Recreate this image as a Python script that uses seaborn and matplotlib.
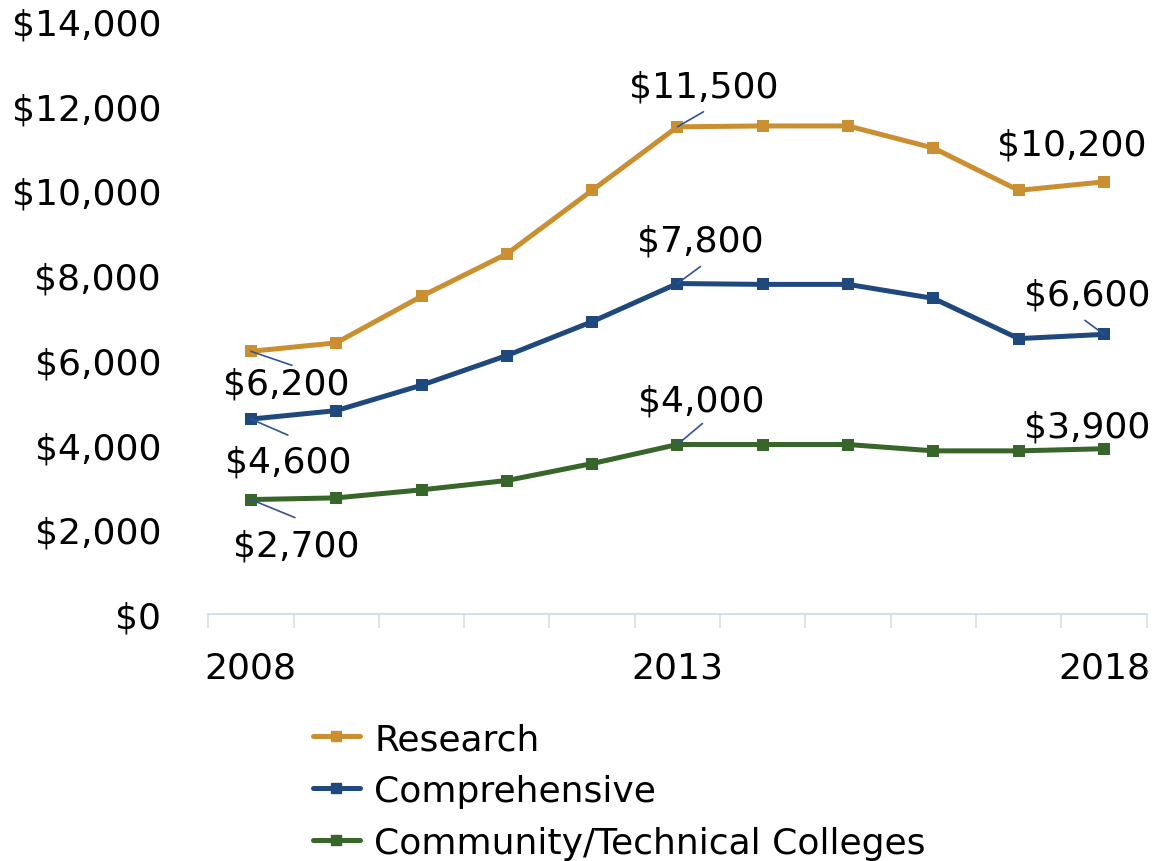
import numpy as np
import pandas as pd
import matplotlib
matplotlib.use("Agg")
import matplotlib.pyplot as plt
import seaborn as sns

years = list(range(2008, 2019))
research = [6200, 6400, 7500, 8500, 10000, 11500, 11520, 11520, 11000, 10000, 10200]
comprehensive = [4600, 4800, 5400, 6100, 6900, 7800, 7780, 7780, 7450, 6500, 6600]
community = [2700, 2740, 2930, 3150, 3550, 4000, 4000, 4000, 3850, 3850, 3900]
series_names = ["Research", "Comprehensive", "Community/Technical Colleges"]
colors = ["#C98F31", "#1F497D", "#37652A"]

df = pd.DataFrame({
    "x": list(range(len(years))) * 3,
    "value": research + comprehensive + community,
    "series": [n for n in series_names for _ in years],
})

sns.set_style("white")
plt.rcParams["font.family"] = ["DejaVu Sans"]
plt.rcParams["text.color"] = "black"
plt.rcParams["xtick.color"] = "black"
plt.rcParams["ytick.color"] = "black"

fig = plt.figure(figsize=(11.7, 8.62), dpi=100)
ax = fig.add_axes([0.178, 0.2866, 0.802, 0.688])

sns.lineplot(data=df, x="x", y="value", hue="series", palette=colors,
             style="series", markers=["s", "s", "s"], dashes=False,
             linewidth=3.6, markersize=9, markeredgewidth=0, ax=ax, legend=False)

ax.set_xlim(-0.5, 10.5)
ax.set_ylim(0, 14000)
ax.set_yticks(range(0, 14001, 2000))
ax.set_yticklabels(["${:,}".format(v) for v in range(0, 14001, 2000)])
ax.set_xticks([0, 5, 10])
ax.set_xticklabels(["2008", "2013", "2018"])
ax.set_xticks(np.arange(-0.5, 11, 1), minor=True)
ax.tick_params(axis="x", which="major", length=0, pad=26, labelsize=26)
ax.tick_params(axis="x", which="minor", bottom=True, length=10, width=1.2,
               color="#D6DEEB", direction="out")
ax.tick_params(axis="y", length=0, pad=34, labelsize=26)
ax.set_xlabel("")
ax.set_ylabel("")
for s in ["top", "right", "left"]:
    ax.spines[s].set_visible(False)
ax.spines["bottom"].set_color("#D6DEEB")
ax.spines["bottom"].set_linewidth(1.5)

# data labels: index, value, text offset (px), leader end offset (px) or None
labels = [
    (0, research[0], (35, -32), (41, -14)),
    (0, comprehensive[0], (37, -42), (37, -16)),
    (0, community[0], (45, -46), (44, -18)),
    (5, research[5], (26, 40), (26, 15)),
    (5, comprehensive[5], (23, 43), (23, 17)),
    (5, community[5], (24, 44), (25, 21)),
    (10, research[10], (-32, 37), None),
    (10, comprehensive[10], (-17, 40), (-19, 14)),
    (10, community[10], (-17, 22), None),
]
for i, v, off, lead in labels:
    if lead is not None:
        ax.annotate("", xy=(i, v), xytext=lead, textcoords="offset pixels",
                    arrowprops=dict(arrowstyle="-", color="#2F5597", lw=1.2,
                                    shrinkA=0, shrinkB=0))
    ax.annotate("${:,}".format(v), xy=(i, v), xytext=off, textcoords="offset pixels",
                ha="center", va="center", fontsize=26)

handles = [plt.Line2D([], [], color=c, lw=3.6, marker="s", markersize=7) for c in colors]
fig.legend(handles, series_names, loc="upper left", bbox_to_anchor=(0.255, 0.178),
           frameon=False, fontsize=26, handlelength=1.3, handletextpad=0.4,
           labelspacing=0.5, borderaxespad=0)

fig.savefig("out.png", dpi=100)
